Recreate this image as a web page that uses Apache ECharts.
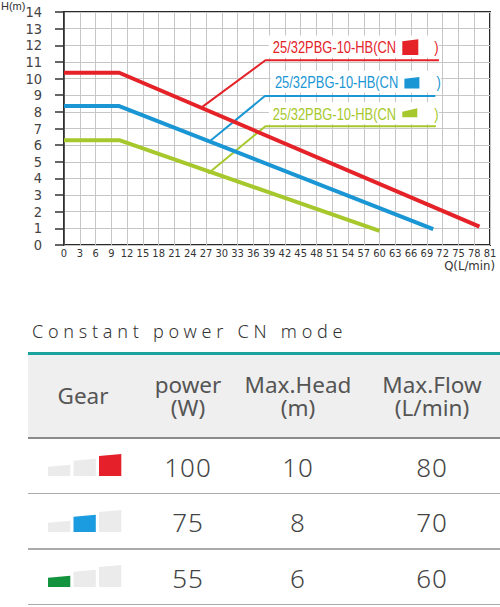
<!DOCTYPE html>
<html>
<head>
<meta charset="utf-8">
<script src="https://cdn.jsdelivr.net/npm/echarts@6.0.0/dist/echarts.min.js"></script>
<style>
  body { margin: 0; background: #fff; }
  #page { position: relative; width: 500px; height: 607px; overflow: hidden; font-family: "Noto Sans", sans-serif; }
  #main { position: absolute; left: 0; top: 0; width: 500px; height: 290px; }
  .abs { position: absolute; white-space: nowrap; }
</style>
<title>CN mode curves</title>
</head>
<body>
<div id="page">
  <div id="main"></div>
</div>
<script type="text/javascript">
// ---- chart data ----
var qMin = 0, qMax = 81, qStep = 3;
var hMin = 0, hMax = 14, hStep = 1;
var curveColors = ['#e42228', '#1a96d4', '#a6c82c'];
var redCurve = [[0, 10.35], [10.5, 10.35], [79, 1.1]];
var blueCurve = [[0, 8.35], [10.5, 8.35], [70.2, 0.95]];
var greenCurve = [[0, 6.3], [10.5, 6.3], [60, 0.85]];
var redLeader = [[26.3, 8.3], [38.3, 11.1], [71.3, 11.1]];
var blueLeader = [[27.6, 6.2], [38.2, 8.95], [70.6, 8.95]];
var greenLeader = [[27.4, 4.3], [38.3, 7.14], [70.7, 7.14]];
var modelName = '25/32PBG-10-HB(CN';
var labelAnchors = [[39.7, 11.92], [40.1, 9.81], [39.7, 7.91]];

// ---- table data ----
var tableTitle = 'Constant power CN mode';
var headers = [['Gear'], ['power', '(W)'], ['Max.Head', '(m)'], ['Max.Flow', '(L/min)']];
var gearLevel = [3, 2, 1];
var gearColors = ['#e5202a', '#1b9be0', '#13933d'];
var powerW = [100, 75, 55];
var maxHead = [10, 8, 6];
var maxFlow = [80, 70, 60];

var narrow = '"DejaVu Sans Condensed", "Liberation Sans", sans-serif';

var myChart = echarts.init(document.getElementById('main'), null, { renderer: 'svg' });

function curve(data, color, width) {
    return {
        type: 'line', data: data, symbol: 'none', silent: true,
        lineStyle: { color: color, width: width }, z: width > 3 ? 3 : 2
    };
}

var option = {
    animation: false,
    grid: { left: 64, right: 10, top: 12, bottom: 45, show: true, borderColor: '#2a2a2a', borderWidth: 2 },
    xAxis: {
        type: 'value', min: qMin, max: qMax, interval: qStep,
        axisLine: { show: false }, axisTick: { show: false },
        axisLabel: { margin: 3, fontFamily: narrow, fontSize: 11, color: '#333', showMinLabel: true, showMaxLabel: true, hideOverlap: false },
        splitLine: { lineStyle: { color: '#c6c6c6', width: 1 } },
        name: 'Q(L/min)', nameLocation: 'end', nameGap: 5, nameMoveOverlap: false,
        nameTextStyle: { align: 'right', verticalAlign: 'top', padding: [14, 0, 0, 0], fontFamily: narrow, fontSize: 13, color: '#333' }
    },
    yAxis: {
        type: 'value', min: hMin, max: hMax, interval: hStep, offset: 12,
        axisLine: { show: true, lineStyle: { color: '#333', width: 1.5 } },
        axisTick: { show: true, length: 9, lineStyle: { color: '#333', width: 1.5 } },
        axisLabel: { margin: 10, fontFamily: narrow, fontSize: 14.5, color: '#444', showMinLabel: true, showMaxLabel: true, hideOverlap: false },
        splitLine: { lineStyle: { color: '#c6c6c6', width: 1 } }
    },
    series: [
        curve(redLeader, curveColors[0], 2),
        curve(blueLeader, curveColors[1], 2),
        curve(greenLeader, curveColors[2], 2),
        curve(redCurve, curveColors[0], 4),
        curve(blueCurve, curveColors[1], 4),
        curve(greenCurve, curveColors[2], 4)
    ]
};
myChart.setOption(option);

// labels with the gear mark, placed at data anchors
var iconShapes = [
    [[0, -5.3], [16, -7.4], [16, 8.3], [0, 8.3]],
    [[0, -3], [15, -4.7], [15, 6.8], [0, 6.8]],
    [[0, -1.6], [15, -5], [15, 4], [0, 4]]
];
var labelGraphics = labelAnchors.map(function (a, i) {
    var p = myChart.convertToPixel({ gridIndex: 0 }, a);
    return {
        type: 'group', x: p[0], y: p[1], z: 10,
        children: [
            { type: 'rect', shape: { x: -4, y: -11, width: 170, height: 22 }, style: { fill: '#fff' } },
            { type: 'text', x: 0, y: 0, scaleX: 0.76, style: { text: modelName, fill: curveColors[i], font: '17px "Liberation Sans", sans-serif', verticalAlign: 'middle' } },
            { type: 'polygon', x: 129.5, y: 0, shape: { points: iconShapes[i] }, style: { fill: curveColors[i] } },
            { type: 'text', x: 161.5, y: 0, scaleX: 0.76, style: { text: ')', fill: curveColors[i], font: '17px "Liberation Sans", sans-serif', verticalAlign: 'middle' } }
        ]
    };
});
// y axis title, top-left corner
labelGraphics.push({
    type: 'text', left: 1, top: 0,
    style: { text: 'H(m)', font: '11px "Liberation Sans", sans-serif', fill: '#333' }
});
myChart.setOption({ graphic: labelGraphics });

// ---- table below the chart ----
var page = document.getElementById('page');
function put(css, html) {
    var d = document.createElement('div');
    d.className = 'abs';
    d.style.cssText = css;
    if (html !== undefined) d.innerHTML = html;
    page.appendChild(d);
    return d;
}
var colCenter = [83, 188, 298, 432];
var colWidth = 150;

put('left:32px;top:321px;height:20px;line-height:20px;font-size:18px;letter-spacing:4.75px;color:#333;font-weight:300;', tableTitle);
put('left:28px;top:352px;width:472px;height:2.5px;background:#1ba39c;');
put('left:28px;top:354.5px;width:472px;height:83px;background:#efefef;');
put('left:28px;top:437px;width:472px;height:1.5px;background:#8a8a8a;');

headers.forEach(function (h, c) {
    var top0 = h.length === 1 ? 383.5 : 372.5;
    h.forEach(function (line, k) {
        put('left:' + (colCenter[c] - colWidth / 2) + 'px;top:' + (top0 + k * 23 + 1) + 'px;width:' + colWidth + 'px;height:21px;text-align:center;' +
            'font-size:22.5px;line-height:21px;color:#555;', line);
    });
});

var rowTop0 = 438, rowH = 55.6;
gearLevel.forEach(function (lvl, r) {
    var top = rowTop0 + r * rowH;
    var mid = top + 29.5;
    // gear bars
    var bars = [[9.3, 11.3], [15.3, 17.3], [20, 22]];
    var svg = '<svg width="76" height="24" xmlns="http://www.w3.org/2000/svg">';
    bars.forEach(function (b, k) {
        var x0 = k * 25.5, x1 = x0 + 22.3;
        var fill = (k + 1 === lvl) ? gearColors[r] : '#ebebeb';
        svg += '<polygon fill="' + fill + '" points="' + x0 + ',' + (24 - b[0]) + ' ' + x1 + ',' + (24 - b[1]) + ' ' +
            x1 + ',24 ' + x0 + ',24"/>';
    });
    svg += '</svg>';
    put('left:47.7px;top:' + (top + 38 - 24) + 'px;width:76px;height:24px;', svg);

    [powerW[r], maxHead[r], maxFlow[r]].forEach(function (v, c) {
        put('left:' + (colCenter[c + 1] - colWidth / 2) + 'px;top:' + (mid - 15.8) + 'px;width:' + colWidth + 'px;' +
            'text-align:center;font-size:26px;line-height:30px;color:#444;font-weight:300;letter-spacing:1px;', String(v));
    });
    put('left:28px;top:' + (top + rowH - 1) + 'px;width:472px;height:1.5px;background:#ababab;');
});
</script>
</body>
</html>
